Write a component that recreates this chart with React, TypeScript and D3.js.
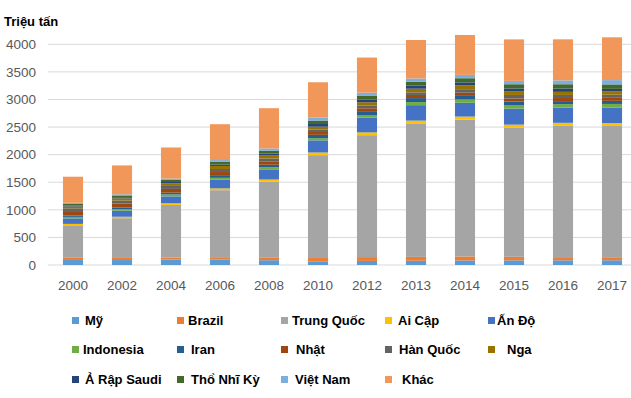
import * as d3 from 'd3';

// nam
const years = ['2000', '2002', '2004', '2006', '2008', '2010', '2012', '2013', '2014', '2015', '2016', '2017'];

// san luong xi mang (trieu tan)
const my = [90, 90, 99, 99, 87, 67, 74, 77, 83, 84, 85, 86];
const brazil = [40, 38, 35, 42, 52, 59, 69, 70, 72, 65, 57, 54];
const trungQuoc = [590, 720, 955, 1215, 1370, 1865, 2210, 2420, 2480, 2340, 2380, 2380];
const aiCap = [25, 27, 30, 33, 40, 48, 50, 50, 55, 55, 55, 53];
const anDo = [100, 110, 125, 155, 185, 220, 270, 280, 250, 290, 275, 280];
const indonesia = [27, 30, 35, 36, 38, 40, 45, 56, 60, 65, 63, 66];
const iran = [23, 27, 32, 35, 45, 60, 70, 72, 65, 65, 55, 56];
const nhat = [82, 72, 68, 70, 62, 51, 52, 57, 58, 55, 56, 55];
const hanQuoc = [51, 55, 54, 55, 52, 47, 48, 47, 63, 63, 56, 57];
const nga = [32, 38, 45, 55, 53, 50, 62, 66, 69, 62, 56, 58];
const aRapSaudi = [18, 21, 26, 27, 37, 48, 50, 57, 55, 55, 61, 47];
const thoNhiKy = [36, 33, 38, 47, 51, 63, 64, 71, 75, 77, 77, 81];
const vietNam = [13, 20, 26, 33, 40, 56, 60, 58, 61, 61, 70, 78];
const khac = [473, 524, 562, 650, 730, 638, 636, 697, 723, 752, 744, 776];

const yTicks = [0, 500, 1000, 1500, 2000, 2500, 3000, 3500, 4000];

const series = [
  { name: 'Mỹ', values: my, color: '#5B9BD5' },
  { name: 'Brazil', values: brazil, color: '#ED7D31' },
  { name: 'Trung Quốc', values: trungQuoc, color: '#A5A5A5' },
  { name: 'Ai Cập', values: aiCap, color: '#FFC000' },
  { name: 'Ấn Độ', values: anDo, color: '#4472C4' },
  { name: 'Indonesia', values: indonesia, color: '#70AD47' },
  { name: 'Iran', values: iran, color: '#255E91' },
  { name: 'Nhật', values: nhat, color: '#9E480E' },
  { name: 'Hàn Quốc', values: hanQuoc, color: '#636363' },
  { name: 'Nga', values: nga, color: '#997300' },
  { name: 'Ả Rập Saudi', values: aRapSaudi, color: '#264478' },
  { name: 'Thổ Nhĩ Kỳ', values: thoNhiKy, color: '#43682B' },
  { name: 'Việt Nam', values: vietNam, color: '#7CAFDD' },
  { name: 'Khác', values: khac, color: '#F1975A' },
];

// vi tri chu thich (cot, hang), lech chu
const legendCols = [72, 177, 281, 385, 488];
const legendRows = [320.5, 349.5, 379.5];
const textGap = [13, 11, 11, 13, 9, 11, 14, 15, 14, 19, 13, 14, 14, 17];

export default function App() {
  const width = 631;
  const height = 398;

  const x = d3.scaleBand().domain(years).range([48.5, 636.5]).paddingInner(0.59).paddingOuter(0.295);
  const y = d3.scaleLinear().domain([0, 4000]).range([265, 44.3]);

  const table = years.map((yr, i) => {
    const row: any = { year: yr };
    series.forEach(s => { row[s.name] = s.values[i]; });
    return row;
  });
  const stacked = d3.stack().keys(series.map(s => s.name))(table);

  const font = 'Liberation Sans, Arial, sans-serif';

  return (
    <svg width={width} height={height} style={{ position: 'absolute', left: 0, top: 0, background: '#fff' }}>
      {yTicks.map(t => (
        <g key={t}>
          <line x1={48} x2={631} y1={y(t)} y2={y(t)} stroke="#d9d9d9" strokeWidth={1} />
          <text x={36} y={y(t)} dy="0.35em" textAnchor="end" fontFamily={font} fontSize={13.5} fill="#595959">{t}</text>
        </g>
      ))}
      <text x={4} y={26} fontFamily={font} fontSize={13} fontWeight="bold" fill="#000">Triệu tấn</text>

      {stacked.map((layer, si) => (
        <g key={layer.key} fill={series[si].color}>
          {layer.map((d, i) => (
            <rect key={i} x={x(years[i])} width={x.bandwidth()} y={y(d[1])} height={y(d[0]) - y(d[1])} />
          ))}
        </g>
      ))}

      {years.map(yr => (
        <text key={yr} x={(x(yr) ?? 0) + x.bandwidth() / 2} y={290} textAnchor="middle" fontFamily={font} fontSize={13.5} fill="#595959">{yr}</text>
      ))}

      {series.map((s, i) => {
        const cx = legendCols[i % 5];
        const cy = legendRows[Math.floor(i / 5)];
        return (
          <g key={s.name}>
            <rect x={cx} y={cy - 3.5} width={7} height={7} fill={s.color} />
            <text x={cx + textGap[i]} y={cy} dy="0.36em" fontFamily={font} fontSize={13} fontWeight="bold" fill="#000">{s.name}</text>
          </g>
        );
      })}
    </svg>
  );
}
